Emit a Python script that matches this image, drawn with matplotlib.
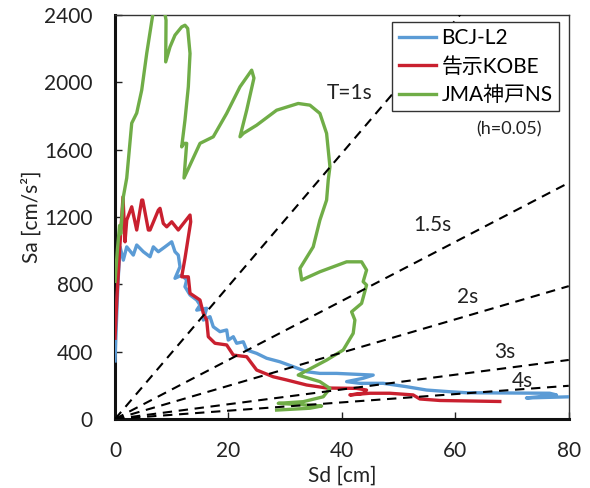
import numpy as np
import matplotlib
matplotlib.use('Agg')
import matplotlib.pyplot as plt

plt.rcParams['font.family'] = ['Lato', 'Noto Sans CJK JP', 'DejaVu Sans']

# BCJ-L2 (Sd [cm], Sa [cm/s2])
bcj_sd = [0, 0.1, 0.5, 0.88, 1.46, 2.06, 3.22, 3.82, 4.99, 6.17, 6.75, 7.63, 8.81, 9.99,
          10.57, 11.15, 11.45, 10.57, 11.75, 12.63, 12.33, 13.22, 14.40, 14.98, 14.40,
          16.16, 15.56, 16.74, 17.32, 18.50, 19.68, 19.96, 20.85, 21.44, 22.61, 23.21,
          24.97, 26.73, 29.07, 31.42, 33.78, 36.12, 39.07, 45.52, 43.75, 40.83, 43.17,
          47.28, 51.40, 54.93, 59.03, 61.97, 76.65, 77.83, 72.54, 80.2, 82]
bcj_sa = [345, 450, 800, 1023, 944, 1023, 974, 1034, 994, 964, 1023, 994, 1023, 1053,
          994, 974, 905, 836, 855, 826, 786, 737, 707, 677, 647,
          658, 588, 608, 548, 519, 529, 469, 489, 450, 459, 410,
          390, 361, 340, 311, 281, 271, 271, 261, 242, 222, 212,
          212, 192, 172, 162, 156, 153, 143, 125, 132, 130]

# 告示KOBE
kobe_sd = [0, 0.3, 0.8, 1.4, 1.76, 2.06, 2.94, 3.82, 4.70, 4.88, 5.87, 6.17, 7.63, 7.93,
           8.51, 9.11, 9.99, 11.15, 13.22, 13.34, 12.33, 11.75, 12.92, 13.22, 14.98,
           15.56, 16.16, 16.44, 17.62, 19.68, 20.85, 23.21, 24.97, 27.89, 30.26, 33.78,
           37.36, 42.58, 44.35, 43.75, 41.41, 44.93, 48.46, 52.56, 53.74, 57.27, 62.55, 67.84]
kobe_sa = [480, 700, 1000, 1320, 1053, 1182, 1261, 1123, 1301, 1301, 1123, 1123, 1241, 1252,
           1162, 1142, 1172, 1123, 1212, 1172, 955, 845, 845, 747, 707,
           628, 588, 489, 450, 440, 380, 370, 291, 251, 232, 202,
           184, 182, 172, 153, 143, 153, 153, 143, 119, 110, 107, 104]

# JMA神戸NS
jma_sd = [0, 0.4, 0.8, 1.0, 1.46, 2.06, 2.94, 3.82, 4.70, 5.59, 6.64, 7.3, 8.0, 8.99,
          8.93, 9.69, 10.57, 11.75, 12.33, 12.81, 13.22, 12.92, 12.33, 11.75, 12.16,
          12.63, 12.16, 14.98, 17.32, 19.68, 22.03, 24.09, 24.49, 23.21, 22.03, 22.61,
          24.97, 28.49, 32.30, 34.36, 36.12, 37.30, 37.89, 37.59, 37.30, 36.12, 34.94,
          32.60, 32.90, 36.12, 40.83, 43.47, 44.35, 43.75, 44.35, 43.47, 41.71, 42.29,
          41.99, 40.23, 37.30, 32.30, 36.12, 37.89, 36.71, 33.18, 28.78, 33.78, 36.42,
          34.36, 28.49]
jma_sa = [818, 1000, 1150, 1100, 1320, 1432, 1758, 1818, 1954, 2174, 2400, 2580, 2560, 2370,
          2122, 2211, 2281, 2330, 2340, 2321, 2172, 1974, 1776, 1617, 1638,
          1638, 1432, 1638, 1677, 1816, 1974, 2073, 2026, 1835, 1677, 1697,
          1746, 1835, 1875, 1865, 1816, 1697, 1499, 1420, 1301, 1182, 1023,
          895, 826, 875, 934, 934, 885, 816, 796, 687, 637, 588,
          509, 410, 350, 261, 222, 182, 132, 103, 93, 83, 77,
          64, 53]

periods = [1, 1.5, 2, 3, 4]
period_labels = ['T=1s', '1.5s', '2s', '3s', '4s']
label_pos = [(41.4, 1936), (55.9, 1152), (62.2, 722), (68.7, 398), (71.9, 226)]

fig = plt.figure(figsize=(5.9, 4.88), dpi=100)
ax = fig.add_axes([0.195, 0.1414, 0.769, 0.8276])

ax.plot(bcj_sd, bcj_sa, color='#5B9BD5', lw=2.4, label='BCJ-L2', zorder=3)
ax.plot(kobe_sd, kobe_sa, color='#C9202F', lw=2.4, label='告示KOBE', zorder=3)
ax.plot(jma_sd, jma_sa, color='#70AD47', lw=2.4, label='JMA神戸NS', zorder=3)

# constant-period lines: Sa = (2*pi/T)^2 * Sd
sd = np.array([0, 80])
for T in periods:
    ax.plot(sd, (2 * np.pi / T) ** 2 * sd, color='black', lw=1.5,
            dashes=(4.5, 3.2), zorder=4)
for txt, (x, y) in zip(period_labels, label_pos):
    ax.text(x, y, txt, fontsize=15, ha='center', va='center', color='#222222')
ax.text(69.4, 1723, '(h=0.05)', fontsize=13, ha='center', va='center', color='#222222')

ax.set_xlim(0, 80)
ax.set_ylim(0, 2400)
ax.set_xticks([0, 20, 40, 60, 80])
ax.set_yticks(range(0, 2401, 400))
ax.tick_params(direction='in', length=5, width=1, labelsize=15, colors='#222222')
ax.tick_params(axis='y', pad=16)
ax.tick_params(axis='x', pad=16)
ax.set_xlabel('Sd [cm]', fontsize=15, color='#222222', labelpad=3)
ax.set_ylabel('Sa [cm/s²]', fontsize=15, color='#222222', labelpad=2)

for s in ['left', 'bottom']:
    ax.spines[s].set_linewidth(2.2)
    ax.spines[s].set_color('#111111')
for s in ['top', 'right']:
    ax.spines[s].set_linewidth(1.0)
    ax.spines[s].set_color('#333333')

leg = ax.legend(loc='upper right', bbox_to_anchor=(0.978, 0.983), fontsize=15,
                frameon=True, fancybox=False, framealpha=1, handlelength=1.8,
                handletextpad=0.25, borderpad=0.3, labelspacing=0.4, borderaxespad=0)
leg.get_frame().set_edgecolor('#333333')
leg.get_frame().set_linewidth(1.0)
leg.set_zorder(5)

fig.savefig('out.png', dpi=100)
